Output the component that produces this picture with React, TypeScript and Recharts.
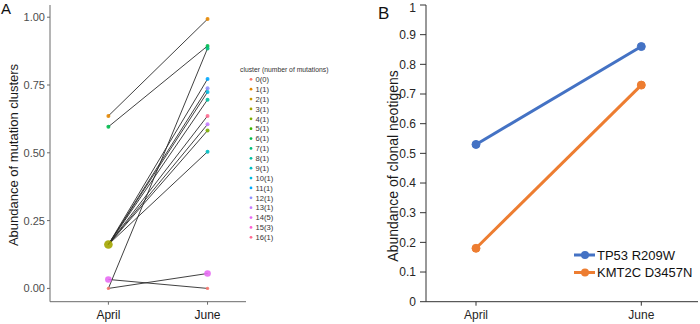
import React from 'react';
import { ComposedChart, Line, Scatter, XAxis, YAxis, Label } from 'recharts';

const FONT = '"Liberation Sans", Arial, sans-serif';

const categories = ['April', 'June'];

// ---------- Panel A ----------
const clusterLabels = ['0(0)', '1(1)', '2(1)', '3(1)', '4(1)', '5(1)', '6(1)', '7(1)', '8(1)', '9(1)', '10(1)', '11(1)', '12(1)', '13(1)', '14(5)', '15(3)', '16(1)'];
const clusterColors = ['#F8766D', '#E58700', '#C99800', '#A3A500', '#7CAE00', '#39B600', '#00BB4E', '#00BF7D', '#00C1A3', '#00BFC4', '#00BAE0', '#00A9FF', '#8F91FF', '#C77CFF', '#E76BF3', '#FD61D1', '#FF6C91'];
const yTicksA = [0, 0.25, 0.5, 0.75, 1];

// connecting segments: April value -> June value
const segmentApril = [0.636, 0.596, 0.162, 0.162, 0.162, 0.162, 0.162, 0.162, 0.162, 0.162, 0.0, 0.033, 0.0];
const segmentJune = [0.993, 0.894, 0.772, 0.738, 0.724, 0.696, 0.636, 0.605, 0.582, 0.504, 0.885, 0.0, 0.055];

// points: time index (0 = April, 1 = June), value, cluster, weight
const pointTime = [0, 0, 0, 0, 0, 1, 1, 1, 1, 1, 1, 1, 1, 1, 1, 1, 1, 1];
const pointValue = [0.636, 0.596, 0.162, 0.033, 0.0, 0.993, 0.894, 0.885, 0.772, 0.738, 0.724, 0.696, 0.636, 0.605, 0.582, 0.504, 0.055, 0.0];
const pointCluster = [1, 6, 3, 14, 0, 1, 6, 7, 11, 12, 10, 8, 16, 13, 4, 9, 14, 0];
const pointWeight = [1, 1, 8, 5, 0, 1, 1, 1, 1, 1, 1, 1, 1, 1, 1, 1, 5, 0];

// ---------- Panel B ----------
const seriesBNames = ['TP53 R209W', 'KMT2C D3457N'];
const seriesBColors = ['#4472C4', '#ED7D31'];
const tp53Values = [0.53, 0.86];
const kmt2cValues = [0.18, 0.73];
const yTicksB = [0, 0.1, 0.2, 0.3, 0.4, 0.5, 0.6, 0.7, 0.8, 0.9, 1];

const pointsA = pointValue.map((v, i) => ({
  x: pointTime[i] + 1,
  y: v,
  color: clusterColors[pointCluster[i]],
  w: pointWeight[i],
}));

const dataB = categories.map((c, i) => ({ x: i + 1, tp53: tp53Values[i], kmt2c: kmt2cValues[i] }));

const DotShape = (props: any) => {
  const { cx, cy, payload } = props;
  const r = 2 + (payload.w - 1) * 0.33;
  return <circle cx={cx} cy={cy} r={r} fill={payload.color} fillOpacity={0.9} />;
};

export default function App() {
  return (
    <div style={{ position: 'absolute', left: 0, top: 0, width: 700, height: 324, background: '#fff', fontFamily: FONT }}>
      {/* Panel A */}
      <div style={{ position: 'absolute', left: 0, top: 0 }}>
        <ComposedChart width={350} height={324} margin={{ top: 5, right: 104, bottom: 0, left: 0 }}>
          <XAxis
            type="number"
            dataKey="x"
            domain={[0.411, 2.388]}
            ticks={[1, 2]}
            allowDataOverflow
            tickFormatter={(v: number) => categories[v - 1]}
            height={22.3}
            tickSize={3}
            tickMargin={6}
            axisLine={{ stroke: '#6b6b6b' }}
            tickLine={{ stroke: '#6b6b6b' }}
            tick={{ fontSize: 12, fill: '#1a1a1a', fontFamily: FONT }}
          />
          <YAxis
            type="number"
            dataKey="y"
            domain={[-0.049, 1.045]}
            ticks={yTicksA}
            allowDataOverflow
            tickFormatter={(v: number) => v.toFixed(2)}
            width={50}
            tickSize={3}
            tickMargin={2}
            axisLine={{ stroke: '#6b6b6b' }}
            tickLine={{ stroke: '#6b6b6b' }}
            tick={{ fontSize: 11, fill: '#4d4d4d', fontFamily: FONT }}
          >
            <Label
              content={() => (
                <text transform="translate(13,155) rotate(-90)" textAnchor="middle" dominantBaseline="central" fontSize={13} fontFamily={FONT} fill="#1a1a1a">
                  Abundance of mutation clusters
                </text>
              )}
            />
          </YAxis>
          {segmentApril.map((a, i) => (
            <Line
              key={'seg' + i}
              data={[{ x: 1, y: a }, { x: 2, y: segmentJune[i] }]}
              dataKey="y"
              stroke="#2b2b2b"
              strokeWidth={0.9}
              dot={false}
              activeDot={false}
              isAnimationActive={false}
            />
          ))}
          <Scatter data={pointsA} dataKey="y" shape={DotShape} isAnimationActive={false} />
        </ComposedChart>
        <svg width={350} height={324} style={{ position: 'absolute', left: 0, top: 0, pointerEvents: 'none' }}>
          <text x={1} y={14} fontSize={15} fontFamily={FONT} fill="#111">A</text>
          <text x={240} y={71.5} fontSize={6.8} fontFamily={FONT} fill="#333">cluster (number of mutations)</text>
          {clusterLabels.map((l, i) => (
            <g key={l}>
              <circle cx={251} cy={79.3 + i * 9.875} r={1.4} fill={clusterColors[i]} />
              <text x={255.5} y={79.3 + i * 9.875 + 2.7} fontSize={7.6} fontFamily={FONT} fill="#333">{l}</text>
            </g>
          ))}
        </svg>
      </div>

      {/* Panel B */}
      <div style={{ position: 'absolute', left: 350, top: 0 }}>
        <ComposedChart width={350} height={324} data={dataB} margin={{ top: 5, right: 2, bottom: 0, left: 0 }}>
          <XAxis
            type="number"
            dataKey="x"
            domain={[0.6975, 2.343]}
            ticks={[1, 2]}
            allowDataOverflow
            tickFormatter={(v: number) => categories[v - 1]}
            height={22.3}
            tickSize={4}
            tickMargin={5}
            axisLine={{ stroke: '#333' }}
            tickLine={{ stroke: '#333' }}
            tick={{ fontSize: 12, fill: '#262626', fontFamily: FONT }}
          />
          <YAxis
            type="number"
            domain={[0, 1]}
            ticks={yTicksB}
            allowDataOverflow
            tickFormatter={(v: number) => String(Math.round(v * 10) / 10)}
            width={76}
            tickSize={6}
            tickMargin={4}
            axisLine={{ stroke: '#333' }}
            tickLine={{ stroke: '#333' }}
            tick={{ fontSize: 12, fill: '#262626', fontFamily: FONT }}
          >
            <Label
              content={() => (
                <text transform="translate(43,166) rotate(-90)" textAnchor="middle" dominantBaseline="central" fontSize={14} fontFamily={FONT} fill="#1a1a1a">
                  Abundance of clonal neotigens
                </text>
              )}
            />
          </YAxis>
          <Line dataKey="tp53" name={seriesBNames[0]} stroke={seriesBColors[0]} strokeWidth={3} dot={{ r: 4, fill: seriesBColors[0], stroke: seriesBColors[0], strokeWidth: 1 }} activeDot={false} isAnimationActive={false} />
          <Line dataKey="kmt2c" name={seriesBNames[1]} stroke={seriesBColors[1]} strokeWidth={3} dot={{ r: 4, fill: seriesBColors[1], stroke: seriesBColors[1], strokeWidth: 1 }} activeDot={false} isAnimationActive={false} />
        </ComposedChart>
        <svg width={350} height={324} style={{ position: 'absolute', left: 0, top: 0, pointerEvents: 'none' }}>
          <text x={28} y={19} fontSize={17} fontFamily={FONT} fill="#111">B</text>
          {seriesBNames.map((n, i) => (
            <g key={n}>
              <line x1={224} x2={245} y1={255 + i * 17.5} y2={255 + i * 17.5} stroke={seriesBColors[i]} strokeWidth={3} />
              <circle cx={235} cy={255 + i * 17.5} r={4} fill={seriesBColors[i]} />
              <text x={247} y={255 + i * 17.5 + 4.6} fontSize={13} fontFamily={FONT} fill="#111">{n}</text>
            </g>
          ))}
        </svg>
      </div>
    </div>
  );
}
